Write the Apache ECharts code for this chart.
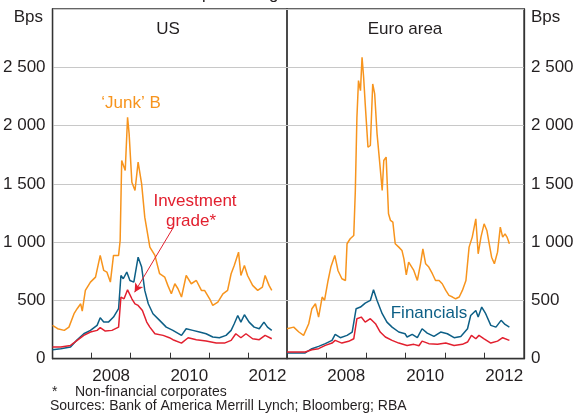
<!DOCTYPE html>
<html>
<head>
<meta charset="utf-8">
<script src="https://cdn.jsdelivr.net/npm/echarts@6/dist/echarts.min.js"></script>
<style>
  html, body { margin: 0; padding: 0; background: #fff; }
  #chart { width: 588px; height: 415px; }
</style>
</head>
<body>
<div id="chart"></div>
<script>
// spreads to equivalent government bonds, bps; [decimal year, value]
const usJunk = [
  [2007.00, 286], [2007.13, 257], [2007.30, 243], [2007.42, 271], [2007.55, 386], [2007.63, 429],
  [2007.72, 471], [2007.76, 409], [2007.84, 586], [2007.97, 657], [2008.10, 700], [2008.22, 886],
  [2008.31, 757], [2008.39, 743], [2008.48, 657], [2008.56, 886], [2008.69, 886], [2008.73, 1014],
  [2008.77, 1700], [2008.81, 1714], [2008.86, 1614], [2008.92, 2071], [2008.96, 1929], [2009.03, 1514],
  [2009.11, 1443], [2009.19, 1686], [2009.28, 1500], [2009.36, 1214], [2009.49, 957], [2009.62, 886],
  [2009.74, 729], [2009.87, 700], [2009.95, 629], [2010.00, 614], [2010.04, 557], [2010.13, 643],
  [2010.21, 600], [2010.30, 529], [2010.42, 714], [2010.55, 643], [2010.68, 671], [2010.81, 586],
  [2010.89, 586], [2011.02, 514], [2011.10, 457], [2011.23, 486], [2011.36, 557], [2011.48, 586],
  [2011.57, 729], [2011.65, 800], [2011.76, 914], [2011.82, 714], [2011.91, 800], [2011.99, 714],
  [2012.12, 629], [2012.25, 586], [2012.37, 614], [2012.44, 714], [2012.54, 629], [2012.61, 586]
]
const usFin = [
  [2007.00, 77], [2007.21, 86], [2007.46, 100], [2007.63, 163], [2007.80, 214], [2007.97, 243],
  [2008.14, 286], [2008.22, 351], [2008.31, 314], [2008.43, 314], [2008.56, 357], [2008.69, 429],
  [2008.75, 714], [2008.81, 686], [2008.90, 743], [2008.98, 671], [2009.08, 657], [2009.19, 871],
  [2009.28, 786], [2009.36, 586], [2009.45, 471], [2009.57, 386], [2009.74, 329], [2009.91, 271],
  [2010.08, 243], [2010.30, 200], [2010.42, 257], [2010.59, 243], [2010.76, 229], [2010.93, 214],
  [2011.10, 186], [2011.27, 180], [2011.44, 200], [2011.57, 243], [2011.65, 300], [2011.74, 371],
  [2011.82, 314], [2011.91, 377], [2012.03, 314], [2012.16, 271], [2012.29, 257], [2012.41, 314],
  [2012.50, 271], [2012.61, 243]
]
const usInv = [
  [2007.00, 100], [2007.21, 100], [2007.46, 114], [2007.63, 157], [2007.80, 200], [2007.97, 229],
  [2008.14, 243], [2008.22, 266], [2008.35, 237], [2008.52, 243], [2008.69, 271], [2008.75, 529],
  [2008.83, 514], [2008.92, 591], [2009.03, 514], [2009.11, 471], [2009.19, 457], [2009.30, 414],
  [2009.41, 314], [2009.49, 271], [2009.62, 214], [2009.83, 200], [2009.99, 180], [2010.08, 163],
  [2010.30, 134], [2010.47, 180], [2010.68, 163], [2010.93, 151], [2011.19, 134], [2011.40, 134],
  [2011.57, 157], [2011.69, 214], [2011.82, 180], [2011.95, 214], [2012.12, 171], [2012.29, 163],
  [2012.44, 200], [2012.61, 171]
]
const euJunk = [
  [2007.00, 257], [2007.17, 271], [2007.30, 229], [2007.42, 200], [2007.55, 300], [2007.63, 429],
  [2007.72, 471], [2007.80, 357], [2007.89, 529], [2007.95, 500], [2008.04, 671], [2008.11, 786],
  [2008.21, 886], [2008.29, 757], [2008.39, 686], [2008.48, 671], [2008.52, 986], [2008.60, 1029],
  [2008.69, 1057], [2008.73, 1443], [2008.77, 2071], [2008.81, 2386], [2008.86, 2300], [2008.90, 2586],
  [2008.94, 2414], [2008.98, 2186], [2009.05, 1814], [2009.11, 1829], [2009.17, 2357], [2009.22, 2271],
  [2009.28, 1929], [2009.35, 1671], [2009.41, 1443], [2009.45, 1700], [2009.51, 1729], [2009.57, 1243],
  [2009.62, 1186], [2009.68, 1171], [2009.74, 986], [2009.83, 957], [2009.91, 929], [2009.96, 857],
  [2010.02, 720], [2010.08, 829], [2010.21, 757], [2010.30, 671], [2010.38, 814], [2010.44, 943],
  [2010.51, 814], [2010.59, 786], [2010.68, 729], [2010.76, 671], [2010.85, 671], [2010.93, 643],
  [2011.02, 586], [2011.10, 543], [2011.19, 529], [2011.27, 514], [2011.36, 529], [2011.44, 586],
  [2011.53, 671], [2011.61, 957], [2011.69, 1043], [2011.78, 1200], [2011.84, 900], [2011.91, 1043],
  [2011.99, 1157], [2012.06, 1100], [2012.12, 986], [2012.18, 871], [2012.25, 814], [2012.33, 914],
  [2012.40, 1129], [2012.46, 1043], [2012.52, 1071], [2012.57, 1043], [2012.63, 986]
]
const euFin = [
  [2007.00, 49], [2007.46, 49], [2007.63, 86], [2007.80, 106], [2007.97, 129], [2008.14, 157],
  [2008.22, 209], [2008.35, 180], [2008.52, 200], [2008.65, 229], [2008.75, 429], [2008.86, 443],
  [2008.98, 477], [2009.11, 500], [2009.19, 591], [2009.28, 500], [2009.41, 386], [2009.53, 314],
  [2009.66, 271], [2009.83, 229], [2009.99, 214], [2010.04, 186], [2010.17, 209], [2010.30, 180],
  [2010.42, 257], [2010.55, 220], [2010.72, 191], [2010.89, 229], [2011.06, 214], [2011.23, 180],
  [2011.40, 191], [2011.57, 257], [2011.65, 371], [2011.78, 414], [2011.84, 357], [2011.93, 443],
  [2012.03, 386], [2012.16, 286], [2012.29, 271], [2012.42, 329], [2012.52, 294], [2012.63, 271]
]
const euInv = [
  [2007.00, 57], [2007.46, 57], [2007.63, 77], [2007.80, 86], [2007.97, 114], [2008.14, 134],
  [2008.22, 157], [2008.39, 134], [2008.56, 149], [2008.69, 171], [2008.77, 343], [2008.88, 357],
  [2008.98, 314], [2009.11, 343], [2009.24, 300], [2009.36, 229], [2009.49, 186], [2009.66, 157],
  [2009.83, 134], [2010.04, 114], [2010.21, 123], [2010.34, 111], [2010.42, 151], [2010.59, 129],
  [2010.81, 123], [2011.02, 134], [2011.23, 114], [2011.44, 123], [2011.57, 143], [2011.67, 200],
  [2011.78, 171], [2011.86, 200], [2011.99, 171], [2012.16, 134], [2012.33, 151], [2012.46, 180],
  [2012.63, 157]
]
const yearLabels = ['2007', '2008', '2009', '2010', '2011', '2012']
// arrow from the 'Investment grade*' label to the US peak
const arrowFrom = [2010.08, 1120]
const arrowTo = [2009.10, 570]

const FONT = 'Liberation Sans, Arial, sans-serif'
const TXT = '#231f20'
const ORANGE = '#f7941d'
const BLUE = '#0d5f86'
const RED = '#e2202f'

const myChart = echarts.init(document.getElementById('chart'))

function yAxisFor (gridIndex, pos) {
  return {
    type: 'value',
    gridIndex: gridIndex,
    position: pos,
    min: 0,
    max: 3000,
    interval: 500,
    axisLine: { show: true, lineStyle: { color: '#333', width: 1.3 } },
    axisTick: { show: false },
    splitLine: { lineStyle: { color: '#c8c8c8', width: 1 } },
    axisLabel: {
      margin: 7,
      color: TXT,
      fontSize: 17,
      fontFamily: FONT,
      formatter: function (v) {
        if (v === 3000) return ''
        return v >= 1000 ? Math.floor(v / 1000) + ' ' + String(v % 1000).padStart(3, '0') : String(v)
      }
    }
  }
}

function xValueAxis (gridIndex) {
  return {
    type: 'value',
    gridIndex: gridIndex,
    min: 2007,
    max: 2013,
    interval: 1,
    axisLine: { show: true, onZero: false, lineStyle: { color: '#333', width: 1.3 } },
    axisTick: { show: true, inside: true, length: 6, lineStyle: { color: '#333', width: 1 } },
    axisLabel: { show: false },
    splitLine: { show: false }
  }
}

function xLabelAxis (gridIndex) {
  return {
    type: 'category',
    gridIndex: gridIndex,
    position: 'bottom',
    data: yearLabels,
    boundaryGap: true,
    axisLine: { show: false },
    axisTick: { show: false },
    splitLine: { show: false },
    axisLabel: {
      margin: 9,
      color: TXT,
      fontSize: 17,
      fontFamily: FONT,
      interval: 0,
      formatter: function (v) { return Number(v) % 2 === 0 ? v : '' }
    }
  }
}

function line (data, color, xi, yi, z) {
  return {
    type: 'line',
    data: data,
    xAxisIndex: xi,
    yAxisIndex: yi,
    showSymbol: false,
    symbol: 'none',
    z: z,
    lineStyle: { color: color, width: 1.5 },
    animation: false
  }
}

function txt (x, y, text, color, align, size) {
  return {
    type: 'text',
    x: x,
    y: y,
    silent: true,
    style: {
      text: text,
      fill: color,
      font: (size || 17) + 'px ' + FONT,
      align: align || 'center',
      verticalAlign: 'middle'
    }
  }
}

const usInvSeries = line(usInv, RED, 0, 0, 3)
usInvSeries.markLine = {
  silent: true,
  symbol: ['none', 'arrow'],
  symbolSize: [7, 9],
  label: { show: false },
  lineStyle: { color: RED, width: 1, type: 'solid' },
  data: [[{ coord: arrowFrom }, { coord: arrowTo }]],
  animation: false
}

const option = {
  animation: false,
  grid: [
    { left: 50, top: 9, width: 237, height: 349.7, show: true, borderColor: '#333', borderWidth: 1.3 },
    { left: 287, top: 9, width: 237, height: 349.7, show: true, borderColor: '#333', borderWidth: 1.3 }
  ],
  xAxis: [xValueAxis(0), xValueAxis(1), xLabelAxis(0), xLabelAxis(1)],
  yAxis: [yAxisFor(0, 'left'), yAxisFor(1, 'right')],
  series: [
    line(usJunk, ORANGE, 0, 0, 2),
    line(usFin, BLUE, 0, 0, 2),
    usInvSeries,
    line(euJunk, ORANGE, 1, 1, 2),
    line(euFin, BLUE, 1, 1, 2),
    line(euInv, RED, 1, 1, 3)
  ],
  graphic: [
    txt(287, -6, 'To equivalent government bonds', TXT, 'center', 17),
    txt(43, 17, 'Bps', TXT, 'right', 17),
    txt(531, 17, 'Bps', TXT, 'left', 17),
    txt(168, 29, 'US', TXT, 'center', 17),
    txt(405, 29, 'Euro area', TXT, 'center', 17),
    txt(131, 103, '\u2018Junk\u2019 B', ORANGE, 'center', 17),
    txt(195, 201, 'Investment', RED, 'center', 17),
    txt(191, 221, 'grade*', RED, 'center', 17),
    txt(429, 313, 'Financials', BLUE, 'center', 17),
    txt(52, 392, '*', TXT, 'left', 14),
    txt(75, 392, 'Non-financial corporates', TXT, 'left', 14),
    txt(50, 406, 'Sources: Bank of America Merrill Lynch; Bloomberg; RBA', TXT, 'left', 14)
  ]
}

myChart.setOption(option)
</script>
</body>
</html>
